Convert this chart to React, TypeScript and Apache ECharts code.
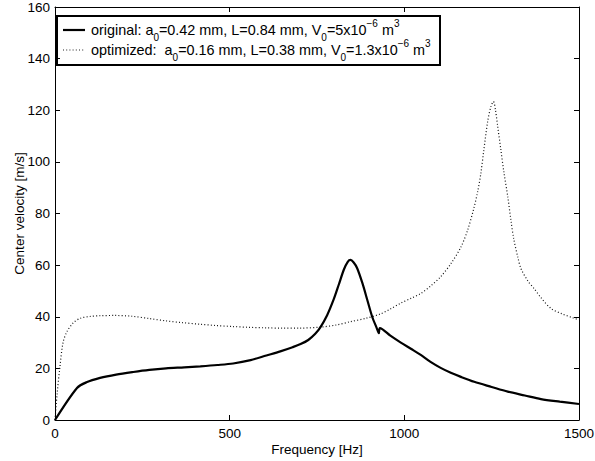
import React, { useEffect, useRef } from "react";
import * as echarts from "echarts";

const origFreq = [0, 63, 90, 129, 175, 224, 270, 318, 370, 416, 465, 510, 560, 605, 645, 680, 703, 725, 745, 760, 779, 798, 812, 827, 838, 846, 855, 865, 880, 894, 908, 921, 927, 930, 960, 990, 1020, 1047, 1075, 1104, 1133, 1162, 1200, 1250, 1296, 1345, 1391, 1445, 1500];
const origVal = [0, 12.4, 14.6, 16.3, 17.6, 18.6, 19.4, 20.0, 20.4, 20.8, 21.3, 21.9, 23.2, 25, 26.6, 28.2, 29.4, 31, 33.4, 36, 40.6, 46.8, 52.3, 58.3, 61.3, 62, 61, 58.8, 53, 46.5, 40, 35.6, 33.6, 35.6, 32.7, 30, 27.5, 25.2, 22.5, 20.2, 18.3, 16.7, 14.8, 12.8, 11, 9.5, 8.1, 7.1, 6.2];

const optFreq = [0, 6, 14, 23, 34, 52, 72, 100, 129, 170, 220, 270, 318, 365, 416, 460, 510, 555, 605, 650, 700, 760, 805, 846, 890, 932, 960, 990, 1020, 1047, 1076, 1104, 1133, 1162, 1181, 1199, 1210, 1219, 1227, 1239, 1248, 1255, 1261, 1267, 1276, 1285, 1296, 1305, 1313, 1325, 1334, 1354, 1371, 1391, 1420, 1450, 1482, 1500];
const optVal = [0, 10, 20.5, 30, 34.2, 37.6, 39.4, 40.1, 40.4, 40.5, 40.2, 39.3, 38.4, 37.7, 37.1, 36.6, 36.2, 35.9, 35.7, 35.6, 35.6, 36, 36.8, 38.1, 39.4, 41.1, 43, 45.3, 47.2, 49, 52, 55.5, 60.5, 67, 73.5, 82, 88.5, 95.5, 104, 116, 121.5, 123.4, 120, 114, 105, 96, 86.6, 77.5, 70.3, 63, 58.6, 53.8, 51, 47.4, 43.2, 41.2, 39.6, 38.8];

const xTicks = [0, 500, 1000, 1500];
const yTicks = [0, 20, 40, 60, 80, 100, 120, 140, 160];
const xTitle = "Frequency [Hz]";
const yTitle = "Center velocity [m/s]";
const legendLine1 = "{n|original: a}{sub|0}{n|=0.42 mm, L=0.84 mm, V}{sub|0}{n|=5x10}{sup|\u22126}{n| m}{sup|3}";
const legendLine2 = "{n|optimized:  a}{sub|0}{n|=0.16 mm, L=0.38 mm, V}{sub|0}{n|=1.3x10}{sup|\u22126}{n| m}{sup|3}";

const FONT = "'Liberation Sans', Arial, Helvetica, sans-serif";

export default function App() {
  const ref = useRef<HTMLDivElement>(null);
  useEffect(() => {
    if (!ref.current) return;
    const chart = echarts.init(ref.current, null, { renderer: "svg" });
    const axisCommon = {
      type: "value" as const,
      axisLine: { show: true, onZero: false, lineStyle: { color: "#000", width: 1 } },
      axisTick: { show: true, inside: true, length: 5, lineStyle: { color: "#000" } },
      splitLine: { show: false },
    };
    const labelStyle = { color: "#000", fontSize: 13.5, fontFamily: FONT };
    const rich = {
      n: { fontSize: 14.4, fontFamily: FONT, lineHeight: 24, fill: "#000", verticalAlign: "middle" },
      sub: { fontSize: 10, fontFamily: FONT, lineHeight: 12, fill: "#000", verticalAlign: "bottom" },
      sup: { fontSize: 10, fontFamily: FONT, lineHeight: 12, fill: "#000", verticalAlign: "top" },
    };
    chart.setOption({
      animation: false,
      backgroundColor: "#fff",
      grid: { left: 55, right: 16, top: 7, bottom: 41, containLabel: false, outerBoundsMode: "none" },
      xAxis: [
        {
          ...axisCommon,
          position: "bottom",
          min: xTicks[0],
          max: xTicks[xTicks.length - 1],
          interval: xTicks[1] - xTicks[0],
          axisLabel: { ...labelStyle, margin: 6, formatter: (v: number) => String(v) },
          name: xTitle,
          nameLocation: "middle",
          nameGap: 22,
          nameMoveOverlap: false,
          nameTextStyle: { ...labelStyle },
        },
        {
          ...axisCommon,
          position: "top",
          min: xTicks[0],
          max: xTicks[xTicks.length - 1],
          interval: xTicks[1] - xTicks[0],
          axisLabel: { show: false },
        },
      ],
      yAxis: [
        {
          ...axisCommon,
          position: "left",
          min: yTicks[0],
          max: yTicks[yTicks.length - 1],
          interval: yTicks[1] - yTicks[0],
          axisLabel: { ...labelStyle, margin: 5, formatter: (v: number) => String(v) },
          name: yTitle,
          nameLocation: "middle",
          nameGap: 29,
          nameMoveOverlap: false,
          nameTextStyle: { ...labelStyle },
        },
        {
          ...axisCommon,
          position: "right",
          min: yTicks[0],
          max: yTicks[yTicks.length - 1],
          interval: yTicks[1] - yTicks[0],
          axisLabel: { show: false },
        },
      ],
      series: [
        {
          type: "line",
          data: optFreq.map((f, i) => [f, optVal[i]]),
          showSymbol: false,
          symbol: "none",
          smooth: 0.3,
          lineStyle: { color: "#111", width: 1.2, type: [1, 2.2] },
          z: 2,
        },
        {
          type: "line",
          data: origFreq.map((f, i) => [f, origVal[i]]),
          showSymbol: false,
          symbol: "none",
          smooth: 0.3,
          lineStyle: { color: "#000", width: 2.2 },
          z: 3,
        },
      ],
      graphic: [
        {
          type: "group",
          z: 100,
          children: [
            {
              type: "rect",
              shape: { x: 57, y: 16, width: 383, height: 49 },
              style: { fill: "#fff", stroke: "#000", lineWidth: 2 },
            },
            {
              type: "line",
              shape: { x1: 63, y1: 30, x2: 85, y2: 30 },
              style: { stroke: "#000", lineWidth: 2.2 },
            },
            {
              type: "line",
              shape: { x1: 63, y1: 50, x2: 85, y2: 50 },
              style: { stroke: "#222", lineWidth: 1.2, lineDash: [1, 2.2] },
            },
            {
              type: "text",
              x: 91,
              y: 30,
              style: { text: legendLine1, rich, verticalAlign: "middle", align: "left", fill: "#000" },
            },
            {
              type: "text",
              x: 91,
              y: 50,
              style: { text: legendLine2, rich, verticalAlign: "middle", align: "left", fill: "#000" },
            },
          ],
        },
      ],
    });
    return () => chart.dispose();
  }, []);
  return (
    <div
      ref={ref}
      style={{ position: "fixed", left: 0, top: 0, width: 595, height: 461, background: "#fff" }}
    />
  );
}
